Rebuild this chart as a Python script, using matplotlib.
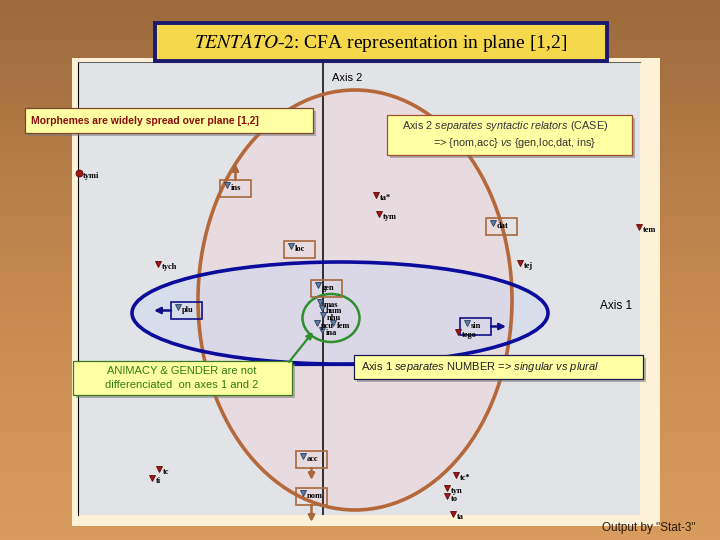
import numpy as np
import matplotlib.pyplot as plt
from matplotlib.patches import Ellipse, Rectangle
from matplotlib.colors import LinearSegmentedColormap

plt.rcParams['mathtext.fontset'] = 'custom'
plt.rcParams['mathtext.rm'] = 'Liberation Sans'
plt.rcParams['mathtext.it'] = 'Liberation Sans:italic'

# Morphemes in plane [1,2] (coordinates on axis 1 and axis 2)
labels = ["tymi", "ins", "loc", "tych", "ta*", "tym", "dat", "tej", "tem", "gen",
          "mas", "hum", "nhu", "pcu", "fem", "ina", "plu", "sin", "tego",
          "tc", "ti", "acc", "nom", "tc*", "tyn", "to", "ta"]
axis1 = [-2.44, -0.96, -0.32, -1.65, 0.53, 0.56, 1.70, 1.97, 3.16, -0.05,
         -0.03, -0.01, 0.00, -0.06, 0.10, -0.01, -1.45, 1.44, 1.35,
         -1.64, -1.71, -0.20, -0.20, 1.33, 1.24, 1.24, 1.30]
axis2 = [1.92, 1.80, 1.19, 1.01, 1.70, 1.51, 1.42, 1.02, 1.38, 0.80,
         0.63, 0.57, 0.50, 0.42, 0.42, 0.35, 0.58, 0.42, 0.33,
         -1.04, -1.13, -0.91, -1.28, -1.10, -1.23, -1.31, -1.49]
# r = endings, b = grammatical categories
kind = ["r", "b", "b", "r", "r", "r", "b", "r", "r", "b",
        "b", "b", "b", "b", "b", "b", "b", "b", "r",
        "r", "r", "b", "b", "r", "r", "r", "r"]

boxed = ["ins", "loc", "dat", "gen", "acc", "nom", "plu", "sin"]
number_cats = ["plu", "sin"]
arrows = {"ins": (0, 0.16), "acc": (0, -0.12), "nom": (0, -0.17),
          "plu": (-0.17, 0), "sin": (0.15, 0)}

W, H = 720, 540
fig = plt.figure(figsize=(7.2, 5.4), dpi=100)

# slide background
bg = fig.add_axes([0, 0, 1, 1])
bg.set_xlim(0, W)
bg.set_ylim(H, 0)
bg.axis('off')
wood = LinearSegmentedColormap.from_list('wood', ['#9c6a3c', '#c4884e', '#d89c5e'])
bg.imshow(np.linspace(0, 1, 100).reshape(-1, 1), cmap=wood, extent=(0, W, H, 0), aspect='auto')
bg.add_patch(Rectangle((72, 58), 588, 468, facecolor='#fdf1d8', edgecolor='none'))

# plane [1,2]
x0, x1, y0, y1 = 78, 640, 62, 515
ax = fig.add_axes([x0 / W, 1 - y1 / H, (x1 - x0) / W, (y1 - y0) / H])
ax.set_facecolor('#e1e3e7')
ax.set_xlim(-2.45, 3.17)
ax.set_ylim(-1.50, 3.03)
ax.set_xticks([])
ax.set_yticks([])
ax.spines['right'].set_visible(False)
ax.spines['bottom'].set_visible(False)
ax.spines['left'].set_color('black')
ax.spines['top'].set_color('#666666')
ax.spines['top'].set_linewidth(0.8)

ax.add_patch(Ellipse((0.32, 0.65), 3.14, 4.20, facecolor='#ecd6da', alpha=0.55, edgecolor='none'))
ax.add_patch(Ellipse((0.17, 0.52), 4.16, 1.02, facecolor='#cbd6f2', alpha=0.45, edgecolor='none'))
ax.axvline(0, color='black', lw=1.1, zorder=2)
ax.axhline(0, color='#10109a', lw=1.6, zorder=2)
ax.add_patch(Ellipse((0.32, 0.65), 3.14, 4.20, fill=False, edgecolor='#b5683a', lw=2.6, zorder=3))
ax.add_patch(Ellipse((0.17, 0.52), 4.16, 1.02, fill=False, edgecolor='#0c0c9c', lw=2.6, zorder=3))
ax.add_patch(Ellipse((0.08, 0.47), 0.57, 0.48, fill=False, edgecolor='#2f8f2f', lw=1.8, zorder=3))

ax.text(0.09, 2.87, "Axis 2", fontsize=8, family='Liberation Sans', va='center')
ax.text(3.09, 0.59, "Axis 1", fontsize=8.5, family='Liberation Sans', ha='right', va='center')

colors = {"r": "#a31616", "b": "#5b7ea6"}
edges = {"r": "#5a0a0a", "b": "#2c3e55"}
for lab, x, y, k in zip(labels, axis1, axis2, kind):
    mk = 'o' if lab == "tymi" else 'v'
    ax.plot(x, y, marker=mk, ms=5, color=colors[k], mec=edges[k], mew=0.6,
            clip_on=False, zorder=6)
    ax.annotate(lab, (x, y), xytext=(2.5, -2), textcoords='offset points', fontsize=6,
                family='Liberation Serif', fontweight='bold', va='center', zorder=7)
    if lab in boxed:
        ec = '#10108a' if lab in number_cats else '#a8683c'
        bx, by, bw, bh = x - 0.07, y - 0.12, 0.31, 0.17
        ax.add_patch(Rectangle((bx, by), bw, bh, fill=False, edgecolor=ec, lw=1.2, zorder=5))
        if lab in arrows:
            dx, dy = arrows[lab]
            if dx < 0:
                start = (bx, by + bh / 2)
            elif dx > 0:
                start = (bx + bw, by + bh / 2)
            elif dy > 0:
                start = (bx + bw / 2, by + bh)
            else:
                start = (bx + bw / 2, by)
            ax.annotate("", xy=(start[0] + dx, start[1] + dy), xytext=start,
                        arrowprops=dict(arrowstyle='-|>', color=ec, lw=1.8, mutation_scale=9,
                                        shrinkA=0, shrinkB=0),
                        annotation_clip=False, zorder=5)

# notes and title on top
ov = fig.add_axes([0, 0, 1, 1], facecolor='none')
ov.set_xlim(0, W)
ov.set_ylim(H, 0)
ov.axis('off')


def note_box(x, y, w, h, edge):
    ov.add_patch(Rectangle((x + 3, y + 3), w, h, facecolor='#7c7c7c', alpha=0.55, edgecolor='none'))
    ov.add_patch(Rectangle((x, y), w, h, facecolor='#ffffa4', edgecolor=edge, lw=0.9))


ov.add_patch(Rectangle((155, 23), 452, 38, facecolor='#f6d84c', edgecolor='#1a1a6e', lw=2.8))
ov.text(381, 43, r"$\mathit{TENTATO}$-$\mathit{2}$: CFA representation in plane [1,2]",
        fontsize=14, family='Liberation Serif', math_fontfamily='stix', ha='center', va='center')

note_box(25, 108, 288, 25, '#7a4a2a')
ov.text(31, 121, "Morphemes are widely spread over plane [1,2]", fontsize=7.5,
        family='Liberation Sans', fontweight='bold', color='#8b0d0d', va='center')

note_box(387, 115, 245, 40, '#a0522d')
ov.text(505, 126, r"Axis 2 $\mathit{separates\ syntactic\ relators}$ (CASE)", fontsize=7.8,
        family='Liberation Sans', color='#333333', ha='center', va='center')
ov.text(515, 143, r"=> {nom,acc} $\mathit{vs}$ {gen,loc,dat, ins}", fontsize=7.8,
        family='Liberation Sans', color='#333333', ha='center', va='center')

ov.annotate("", xy=(313, 332), xytext=(289, 362),
            arrowprops=dict(arrowstyle='-|>', color='#2f8f2f', lw=1.6, mutation_scale=9,
                            shrinkA=0, shrinkB=0))
note_box(73, 361, 219, 34, '#3d7a1d')
ov.text(182, 371, "ANIMACY & GENDER are not", fontsize=8, family='Liberation Sans',
        color='#2e7d10', ha='center', va='center')
ov.text(182, 385, "differenciated  on axes 1 and 2", fontsize=8, family='Liberation Sans',
        color='#2e7d10', ha='center', va='center')

note_box(354, 355, 289, 24, '#1a1a50')
ov.text(361, 367, r"Axis 1 $\mathit{separates}$ NUMBER => $\mathit{singular\ vs\ plural}$",
        fontsize=8, family='Liberation Sans', color='#222222', va='center')

ov.text(602, 528, 'Output by "Stat-3"', fontsize=8.5, family='Liberation Sans',
        color='#2a1a0a', va='center')

plt.savefig("out.png", dpi=100)
